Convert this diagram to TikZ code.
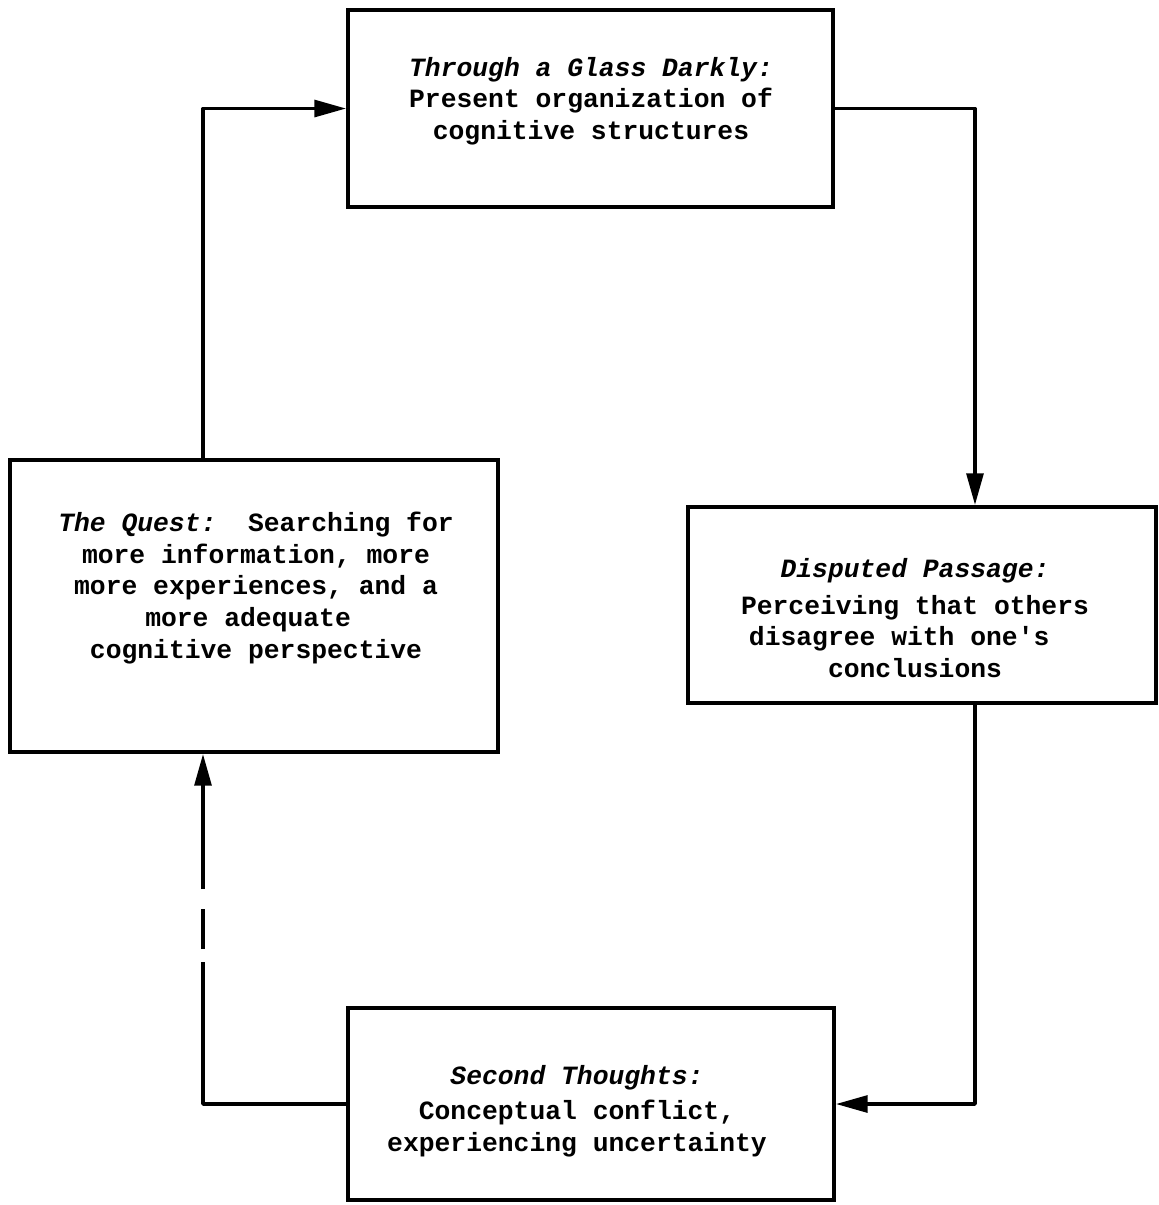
\documentclass[tikz,border=0pt]{standalone}
\usepackage{fontspec}
\setmonofont{Liberation Mono}
\usepackage{tikz}
\usetikzlibrary{arrows.meta,calc}

\begin{document}
\begin{tikzpicture}[
    x=0.02cm, y=-0.02cm,
    box/.style={rectangle, draw, line width=2.2pt, inner sep=0pt},
    txt/.style={align=center, inner sep=0pt,
                font=\ttfamily\bfseries\fontsize{15}{18}\selectfont},
    arr/.style={-{Triangle[length=18pt,width=9.5pt]}, line width=2.1pt,
                line join=round}
  ]
  \useasboundingbox (0,0) rectangle (1159,1205);

  % the four stages
  \node[box, minimum width=9.7cm, minimum height=3.94cm] (glass) at (590.5,108.5) {};
  \node[box, minimum width=9.76cm, minimum height=5.84cm] (quest) at (254,606) {};
  \node[box, minimum width=9.36cm, minimum height=3.92cm] (passage) at (922,605) {};
  \node[box, minimum width=9.72cm, minimum height=3.84cm] (second) at (591,1104) {};

  \node[txt] (glasstxt) at (591,101)
    {\textit{Through a Glass Darkly:}\\Present organization of\\cognitive structures};
  \node[txt] (questtxt) at (256,588)
    {\textit{The Quest:}\ \ Searching for\\more information, more\\more experiences, and a\\more adequate\hphantom{x}\\cognitive perspective};
  \node[txt] (passagetxt) at (915,618)
    {\textit{Disputed Passage:}\\[3pt]Perceiving that others\\disagree with one's\hphantom{xx}\\conclusions};
  \node[txt] (secondtxt) at (577,1111)
    {\textit{Second Thoughts:}\\[2pt]Conceptual conflict,\\experiencing uncertainty};

  % columns of the loop
  \coordinate (lx) at (203,0);
  \coordinate (rx) at (975,0);

  \draw[arr] (quest.north -| lx) |- (glass.west);
  \draw[arr] (glass.east) -| (passage.north -| rx);
  \draw[arr] (passage.south -| rx) |- (second.east);
  \draw[arr, dash pattern={on 5.7cm off 0.26cm on 0.8cm off 0.4cm on 5cm off 0.1cm}]
    (second.west) -| (quest.south -| lx);
\end{tikzpicture}
\end{document}
